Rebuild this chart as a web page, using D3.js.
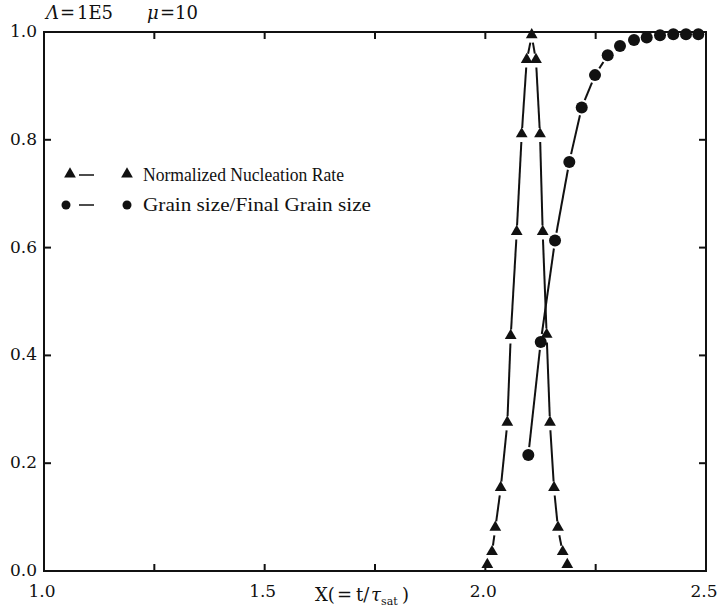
<!DOCTYPE html>
<head>
  <meta charset="utf-8">
  <script src="https://d3js.org/d3.v7.min.js"></script>
  <style>
    body { margin: 0; background: #fff; }
    text { font-family: "Liberation Serif", "Times New Roman", serif; fill: #111; }
    .num { font-family: "DejaVu Serif", serif; font-size: 17px; }
    .frame { fill: none; stroke: #111; stroke-width: 2px; }
    .seg { stroke: #111; stroke-width: 2px; }
  </style>
</head>

<body>
  <script>
    // nucleation rate (triangles)
    var nucX = [2.0045, 2.0151, 2.0226, 2.0348, 2.0498, 2.0575, 2.0711, 2.0824, 2.0937, 2.1051,
                2.1148, 2.1239, 2.1300, 2.1390, 2.1465, 2.1556, 2.1646, 2.1753, 2.1857];
    var nucY = [0.010, 0.034, 0.079, 0.153, 0.274, 0.435, 0.628, 0.809, 0.947, 0.993,
                0.947, 0.809, 0.628, 0.437, 0.274, 0.153, 0.079, 0.034, 0.010];
    // grain size / final grain size (circles)
    var grainX = [2.0974, 2.1255, 2.1579, 2.1903, 2.2184, 2.2485, 2.2773, 2.3051, 2.3369, 2.3657,
                  2.3958, 2.4259, 2.4547, 2.4826];
    var grainY = [0.215, 0.425, 0.613, 0.759, 0.860, 0.920, 0.957, 0.974, 0.985, 0.990,
                  0.994, 0.996, 0.996, 0.996];

    var xTicks = [1.0, 1.5, 2.0, 2.5];
    var xMinor = [1.25, 1.75, 2.25];
    var yTicks = [0.0, 0.2, 0.4, 0.6, 0.8, 1.0];
    var legendLabels = ["Normalized Nucleation Rate", "Grain size/Final Grain size"];

    var svg = d3.select("body").append("svg")
      .attr("width", 722)
      .attr("height", 613);

    var pL = 44, pR = 706, pT = 32, pB = 571;

    var x = d3.scaleLinear().domain([1, 2.5]).range([pL, pR]);
    var y = d3.scaleLinear().domain([0, 1]).range([pB, pT]);

    var triangle = d3.symbol().type(d3.symbolTriangle).size(60);

    // frame
    svg.append("rect").attr("class", "frame")
      .attr("x", pL).attr("y", pT)
      .attr("width", pR - pL).attr("height", pB - pT);

    // ticks (inward, all sides)
    var tl = 7;
    xTicks.concat(xMinor).forEach(function(t) {
      svg.append("line").attr("class", "seg").attr("x1", x(t)).attr("x2", x(t))
        .attr("y1", pB).attr("y2", pB - tl);
      svg.append("line").attr("class", "seg").attr("x1", x(t)).attr("x2", x(t))
        .attr("y1", pT).attr("y2", pT + tl);
    });
    yTicks.forEach(function(t) {
      svg.append("line").attr("class", "seg").attr("y1", y(t)).attr("y2", y(t))
        .attr("x1", pL).attr("x2", pL + tl);
      svg.append("line").attr("class", "seg").attr("y1", y(t)).attr("y2", y(t))
        .attr("x1", pR).attr("x2", pR - tl);
    });

    svg.selectAll(".xlab").data(xTicks).enter().append("text")
      .attr("class", "xlab num")
      .attr("x", function(d) { return x(d) - 2; })
      .attr("y", 597)
      .attr("text-anchor", "middle")
      .text(function(d) { return d.toFixed(1); });

    svg.selectAll(".ylab").data(yTicks).enter().append("text")
      .attr("class", "ylab num")
      .attr("x", 37)
      .attr("y", function(d) { return y(d) + 5; })
      .attr("text-anchor", "end")
      .text(function(d) { return d.toFixed(1); });

    // x axis title
    var xt = svg.append("text").attr("class", "num").attr("y", 601).style("font-size", "18px");
    xt.append("tspan").attr("x", 315).text("X(");
    xt.append("tspan").attr("x", 337).text("=");
    xt.append("tspan").attr("x", 356).text("t/");
    xt.append("tspan").attr("x", 371).style("font-style", "italic").text("τ");
    xt.append("tspan").attr("x", 381).attr("dy", 4).style("font-size", "11px").text("sat");
    xt.append("tspan").attr("x", 402).attr("dy", -4).text(")");

    // top title
    var tt = svg.append("text").attr("class", "num").attr("y", 19).style("font-size", "18px");
    tt.append("tspan").attr("x", 46).style("font-style", "italic").text("Λ");
    tt.append("tspan").attr("x", 60).text("=");
    tt.append("tspan").attr("x", 77).text("1E5");
    tt.append("tspan").attr("x", 147).style("font-style", "italic").text("μ");
    tt.append("tspan").attr("x", 160).text("=");
    tt.append("tspan").attr("x", 175).text("10");

    // connecting segments with gaps at the markers
    function segments(xs, ys, gap) {
      var pts = xs.map(function(d, i) { return [x(d), y(ys[i])]; });
      for (var i = 0; i < pts.length - 1; i++) {
        var a = pts[i], b = pts[i + 1];
        var dx = b[0] - a[0], dy = b[1] - a[1];
        var len = Math.sqrt(dx * dx + dy * dy);
        if (len <= 2 * gap + 1) continue;
        var ux = dx / len, uy = dy / len;
        svg.append("line").attr("class", "seg")
          .attr("x1", a[0] + ux * gap).attr("y1", a[1] + uy * gap)
          .attr("x2", b[0] - ux * gap).attr("y2", b[1] - uy * gap);
      }
    }
    segments(nucX, nucY, 7);
    segments(grainX, grainY, 8);

    svg.selectAll(".tri").data(nucX).enter().append("path")
      .attr("class", "tri")
      .attr("d", triangle)
      .attr("transform", function(d, i) { return "translate(" + x(d) + "," + (y(nucY[i]) - 1) + ")"; })
      .style("fill", "#111");

    svg.selectAll(".dot").data(grainX).enter().append("circle")
      .attr("class", "dot")
      .attr("cx", function(d) { return x(d); })
      .attr("cy", function(d, i) { return y(grainY[i]); })
      .attr("r", 6)
      .style("fill", "#111");

    // legend
    var legWidths = [201, 228];
    var leg = svg.append("g");
    legendLabels.forEach(function(lab, i) {
      var ly = 175 + i * 30;
      if (i === 0) {
        leg.append("path").attr("d", triangle).attr("transform", "translate(70," + (ly - 1) + ")").style("fill", "#111");
        leg.append("path").attr("d", triangle).attr("transform", "translate(127," + (ly - 1) + ")").style("fill", "#111");
      } else {
        leg.append("circle").attr("cx", 66).attr("cy", ly).attr("r", 4.5).style("fill", "#111");
        leg.append("circle").attr("cx", 127).attr("cy", ly).attr("r", 4.5).style("fill", "#111");
      }
      leg.append("line").attr("x1", 79).attr("x2", 94).attr("y1", ly).attr("y2", ly)
        .style("stroke", "#111").style("stroke-width", 1.5);
      leg.append("text").attr("x", 143).attr("y", ly + 6).style("font-size", "18px")
        .attr("textLength", legWidths[i]).attr("lengthAdjust", "spacingAndGlyphs")
        .text(lab);
    });
  </script>
</body>
